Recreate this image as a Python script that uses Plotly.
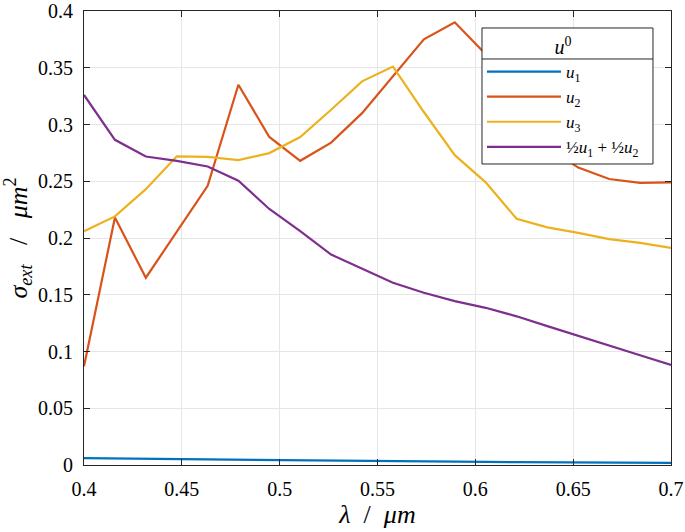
import plotly.graph_objects as go

wavelength = [0.4, 0.4158, 0.4316, 0.4474, 0.4632, 0.4789, 0.4947, 0.5105, 0.5263, 0.5421,
              0.5579, 0.5737, 0.5895, 0.6053, 0.6211, 0.6368, 0.6526, 0.6684, 0.6842, 0.7]

u1 = [0.0060, 0.0057, 0.0054, 0.0051, 0.0048, 0.0045, 0.0042, 0.0040, 0.0037, 0.0035,
      0.0033, 0.0031, 0.0029, 0.0027, 0.0025, 0.0023, 0.0022, 0.0021, 0.0020, 0.0019]
u2 = [0.087, 0.218, 0.165, 0.205, 0.246, 0.335, 0.289, 0.268, 0.284, 0.310,
      0.342, 0.375, 0.390, 0.362, 0.318, 0.280, 0.262, 0.252, 0.2485, 0.249]
u3 = [0.206, 0.219, 0.243, 0.272, 0.2715, 0.2686, 0.2748, 0.289, 0.313, 0.338,
      0.351, 0.311, 0.273, 0.249, 0.217, 0.2094, 0.2045, 0.199, 0.1957, 0.1913]
u_mix = [0.326, 0.2865, 0.2718, 0.268, 0.263, 0.2504, 0.2256, 0.206, 0.1854, 0.1728,
         0.1605, 0.1518, 0.1444, 0.1385, 0.131, 0.1224, 0.1136, 0.1048, 0.0967, 0.0881]

series_names = ["<i>u</i><sub>1</sub>", "<i>u</i><sub>2</sub>", "<i>u</i><sub>3</sub>",
                "½<i>u</i><sub>1</sub> + ½<i>u</i><sub>2</sub>"]
series_values = [u1, u2, u3, u_mix]
colors = ["#0072BD", "#D95319", "#EDB120", "#7E2F8E"]

x_ticks = [0.4, 0.45, 0.5, 0.55, 0.6, 0.65, 0.7]
x_tick_labels = ["0.4", "0.45", "0.5", "0.55", "0.6", "0.65", "0.7"]
y_ticks = [0, 0.05, 0.1, 0.15, 0.2, 0.25, 0.3, 0.35, 0.4]
y_tick_labels = ["0", "0.05", "0.1", "0.15", "0.2", "0.25", "0.3", "0.35", "0.4"]

font_family = "Liberation Serif, DejaVu Serif, serif"
axis_color = "#262626"
sp = "&nbsp;"

fig = go.Figure()
for name, vals, col in zip(series_names, series_values, colors):
    fig.add_trace(go.Scatter(x=wavelength, y=vals, mode="lines", name=name,
                             line=dict(color=col, width=2.2)))

axis_common = dict(showline=True, linecolor=axis_color, linewidth=1, mirror="allticks",
                   ticks="inside", ticklen=6, tickcolor=axis_color, showgrid=True,
                   gridcolor="#e6e6e6", gridwidth=1, zeroline=False, automargin=False,
                   ticklabelstandoff=6,
                   tickfont=dict(family=font_family, size=20, color="#000000"))

fig.update_xaxes(range=[0.4, 0.7], tickvals=x_ticks, ticktext=x_tick_labels,
                 title=dict(text="<i>λ</i>" + sp * 2 + "/" + sp * 2 + "<i>μm</i>",
                            font=dict(family=font_family, size=26, color="#000"), standoff=4),
                 **axis_common)
fig.update_yaxes(range=[0, 0.4], tickvals=y_ticks, ticktext=y_tick_labels,
                 title=dict(text="<i>σ</i><sub><i>ext</i></sub>" + sp * 3 + "/" + sp * 3 +
                                 "<i>μm</i><sup>2</sup>",
                            font=dict(family=font_family, size=26, color="#000"), standoff=8),
                 **axis_common)

# legend frame (white box, border and separator under the title), drawn beneath the legend text
legend_x0, legend_x1 = 0.678, 0.9693
legend_y0, legend_y1 = 0.663, 0.9626
legend_sep = 0.8943
fig.add_shape(type="rect", xref="paper", yref="paper", x0=legend_x0, x1=legend_x1,
              y0=legend_y0, y1=legend_y1, fillcolor="white",
              line=dict(color=axis_color, width=1), layer="above")
fig.add_shape(type="line", xref="paper", yref="paper", x0=legend_x0, x1=legend_x1,
              y0=legend_sep, y1=legend_sep, line=dict(color=axis_color, width=1), layer="above")

fig.update_layout(
    width=685, height=532,
    margin=dict(l=84, r=14, t=11, b=67),
    paper_bgcolor="white", plot_bgcolor="white",
    legend=dict(x=legend_x0, y=legend_y1, xanchor="left", yanchor="top",
                bgcolor="rgba(0,0,0,0)", borderwidth=0,
                font=dict(family=font_family, size=17, color="#000"),
                title=dict(text="<i>u</i><sup>0</sup>", side="top center",
                           font=dict(family=font_family, size=20, color="#000")),
                tracegroupgap=0, itemwidth=74),
    showlegend=True,
)

fig.write_html("out.html", config={"displayModeBar": False},
               post_script="document.body.style.margin='0';document.body.style.padding='0';")
